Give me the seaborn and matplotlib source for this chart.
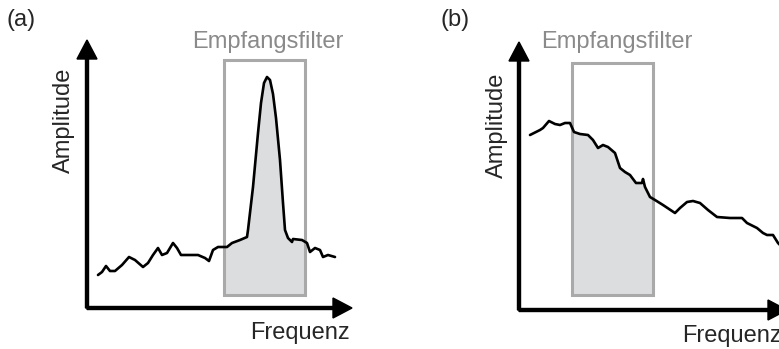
import numpy as np
import pandas as pd
import matplotlib
matplotlib.use("Agg")
import matplotlib.pyplot as plt
import seaborn as sns
from matplotlib.patches import Rectangle

# ---- data (schematic spectra, arbitrary units) ----
freq_a = [11, 15, 19, 23, 28, 35, 42, 48, 56, 61, 66, 71, 75, 80, 86, 90, 94, 100,
          111, 118, 122, 126, 131, 140, 145, 153, 160, 161, 166, 171, 174, 177, 180,
          183, 186, 189, 193, 196, 198, 201, 205, 206, 215, 220, 223, 228, 233, 236,
          241, 248]
amp_a = [33, 36, 42, 37, 37, 43, 51, 48, 41, 45, 53, 60, 53, 55, 65, 60, 53, 53,
         53, 50, 47, 58, 61, 61, 65, 68, 71, 78, 121, 175, 205, 225, 231,
         228, 214, 190, 148, 105, 78, 70, 66, 69, 68, 65, 56, 60, 58, 51,
         53, 51]

freq_b = [11, 21, 24, 30, 36, 41, 46, 51, 55, 61, 69, 74, 79, 84, 89, 96, 101, 106,
          111, 117, 123, 124, 126, 131, 136, 144, 156, 161, 168, 174, 181, 189, 198,
          211, 223, 228, 238, 244, 248, 254, 259, 266]
amp_b = [175, 180, 182, 189, 186, 185, 187, 187, 178, 176, 175, 170, 162, 165, 163,
         157, 142, 138, 135, 127, 127, 131, 123, 113, 110, 105, 97, 102, 108, 109,
         107, 100, 93, 92, 92, 87, 82, 77, 75, 75, 67, 60]

filter_a = (137, 218, 13, 248)   # f_lo, f_hi, amp_lo, amp_hi
filter_b = (53, 134, 15, 247)

panel_labels = ["(a)", "(b)"]
filter_label = "Empfangsfilter"
xlabel = "Frequenz"
ylabel = "Amplitude"

sns.set_theme(style="white")
plt.rcParams["font.family"] = ["Liberation Sans", "DejaVu Sans"]

W, H = 779, 349
fig = plt.figure(figsize=(W / 100, H / 100), dpi=100)

FS = 17
TEXT_GRAY = "#8a8a8a"
RECT_GRAY = "#a9a9a9"
FILL_GRAY = "#dcdddf"


def make_panel(ox, oy, xlen, ylen, freq, amp, filt, plabel, plabel_xy,
               ylabel_x, ylabel_y, xlabel_xy, xlabel_ha, flabel_x):
    # axes where 1 data unit == 1 pixel, origin at (ox, oy) in image pixels
    ax = fig.add_axes([ox / W, (H - oy) / H, xlen / W, ylen / H])
    ax.set_xlim(0, xlen)
    ax.set_ylim(0, ylen)
    ax.axis("off")

    f_lo, f_hi, a_lo, a_hi = filt
    # filled area under the curve inside the filter
    fx = np.linspace(f_lo, f_hi, 300)
    fy = np.interp(fx, freq, amp)
    ax.fill_between(fx, a_lo, fy, color=FILL_GRAY, lw=0, zorder=1, clip_on=False)
    ax.add_patch(Rectangle((f_lo, a_lo), f_hi - f_lo, a_hi - a_lo, fill=False,
                           ec=RECT_GRAY, lw=2.2, zorder=2, clip_on=False))

    df = pd.DataFrame({"f": freq, "a": amp})
    sns.lineplot(data=df, x="f", y="a", ax=ax, color="black", lw=1.9,
                 sort=False, estimator=None, zorder=3)
    for ln in ax.lines:
        ln.set_clip_on(False)
        ln.set_solid_joinstyle("round")

    # axis arrows
    ax.arrow(0, 0, 0, ylen, width=3, head_width=20, head_length=19,
             length_includes_head=True, color="black", clip_on=False, zorder=4)
    ax.arrow(0, 0, xlen, 0, width=3, head_width=20, head_length=19,
             length_includes_head=True, color="black", clip_on=False, zorder=4)
    ax.set_xlabel("")
    ax.set_ylabel("")

    fig.text(plabel_xy[0] / W, 1 - plabel_xy[1] / H, plabel, fontsize=FS,
             ha="left", va="center")
    fig.text(ylabel_x / W, 1 - ylabel_y / H, ylabel, fontsize=FS, rotation=90,
             ha="center", va="center")
    fig.text(xlabel_xy[0] / W, 1 - xlabel_xy[1] / H, xlabel, fontsize=FS,
             ha=xlabel_ha, va="center")
    fig.text(flabel_x / W, 1 - 42 / H, filter_label, fontsize=FS, color=TEXT_GRAY,
             ha="center", va="center")
    return ax


make_panel(87, 308, 265, 268, freq_a, amp_a, filter_a, panel_labels[0], (7, 20),
           64, 120, (300, 333), "center", 268)
make_panel(519, 310, 268, 268, freq_b, amp_b, filter_b, panel_labels[1], (441, 20),
           497, 125, (682, 336), "left", 617)

fig.savefig("out.png", dpi=100)
